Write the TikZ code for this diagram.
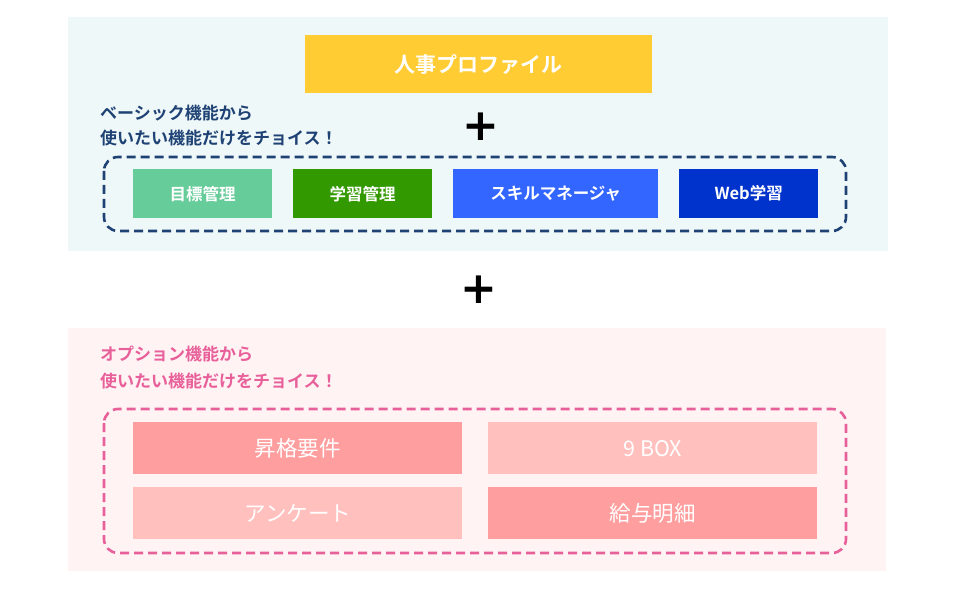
\documentclass[tikz,border=0pt]{standalone}
\usepackage{fontspec}
\newfontfamily\cjk{Noto Sans CJK JP}[BoldFont={Noto Sans CJK JP Bold}]
\newfontfamily\djv{DejaVu Sans}
\definecolor{bgA}{HTML}{EFF8F8}
\definecolor{bgB}{HTML}{FFF3F3}
\definecolor{navy}{HTML}{1F4275}
\definecolor{pinkT}{HTML}{E8609A}
\definecolor{yel}{HTML}{FFCC33}
\definecolor{c1}{HTML}{66CC99}
\definecolor{c2}{HTML}{339900}
\definecolor{c3}{HTML}{3366FF}
\definecolor{c4}{HTML}{0033CC}
\definecolor{pd}{HTML}{FF9E9E}
\definecolor{pl}{HTML}{FFC0BE}
\tikzset{
 fbox/.style={draw=none,inner sep=0pt,anchor=north west,text=white,font=\cjk\bfseries\fontsize{16.5}{18}\selectfont},
 ptxt/.style={anchor=west,inner sep=0pt,font=\cjk\bfseries\fontsize{17}{19}\selectfont},
 dbox/.style={dashed,dash pattern=on 9pt off 5pt,line width=2.6pt,rounded corners=14pt},
 plus/.style={font=\djv\bfseries\fontsize{44}{44}\selectfont}
}
\begin{document}
\begin{tikzpicture}[x=1pt,y=-1pt]
\useasboundingbox (0,0) rectangle (960,593);
\fill[white] (0,0) rectangle (960,593);
\fill[bgA] (68,17) rectangle (888,251);
\node[fbox,fill=yel,minimum width=347pt,minimum height=58pt,font=\cjk\bfseries\fontsize{21}{23}\selectfont] (prof) at (305,35) {人事プロファイル};
\node[ptxt,text=navy] (t1) at (100,113) {ベーシック機能から};
\node[ptxt,text=navy] (t2) at (100,138) {使いたい機能だけをチョイス！};
\node[plus] (p1) at (481,127) {+};
\draw[navy,dbox] (104,157) rectangle (846,231);
\node[fbox,fill=c1,minimum width=139pt,minimum height=49pt] (a1) at (133,169) {目標管理};
\node[fbox,fill=c2,minimum width=139pt,minimum height=49pt] (a2) at (293,169) {学習管理};
\node[fbox,fill=c3,minimum width=205pt,minimum height=49pt] (a3) at (453,169) {スキルマネージャ};
\node[fbox,fill=c4,minimum width=139pt,minimum height=49pt] (a4) at (679,169) {Web学習};
\node[plus] (p2) at (479,290) {+};
\fill[bgB] (68,328) rectangle (886,571);
\node[ptxt,text=pinkT] (t3) at (100,354) {オプション機能から};
\node[ptxt,text=pinkT] (t4) at (100,381) {使いたい機能だけをチョイス！};
\draw[pinkT,dbox] (104,409) rectangle (846,553);
\tikzset{obox/.style={fbox,minimum width=329pt,minimum height=52pt,font=\cjk\fontsize{21.5}{23}\selectfont}}
\node[obox,fill=pd] (b1) at (133,422) {昇格要件};
\node[obox,fill=pl] (b2) at (488,422) {9 BOX};
\node[obox,fill=pl] (b3) at (133,487) {アンケート};
\node[obox,fill=pd] (b4) at (488,487) {給与明細};
\end{tikzpicture}
\end{document}
